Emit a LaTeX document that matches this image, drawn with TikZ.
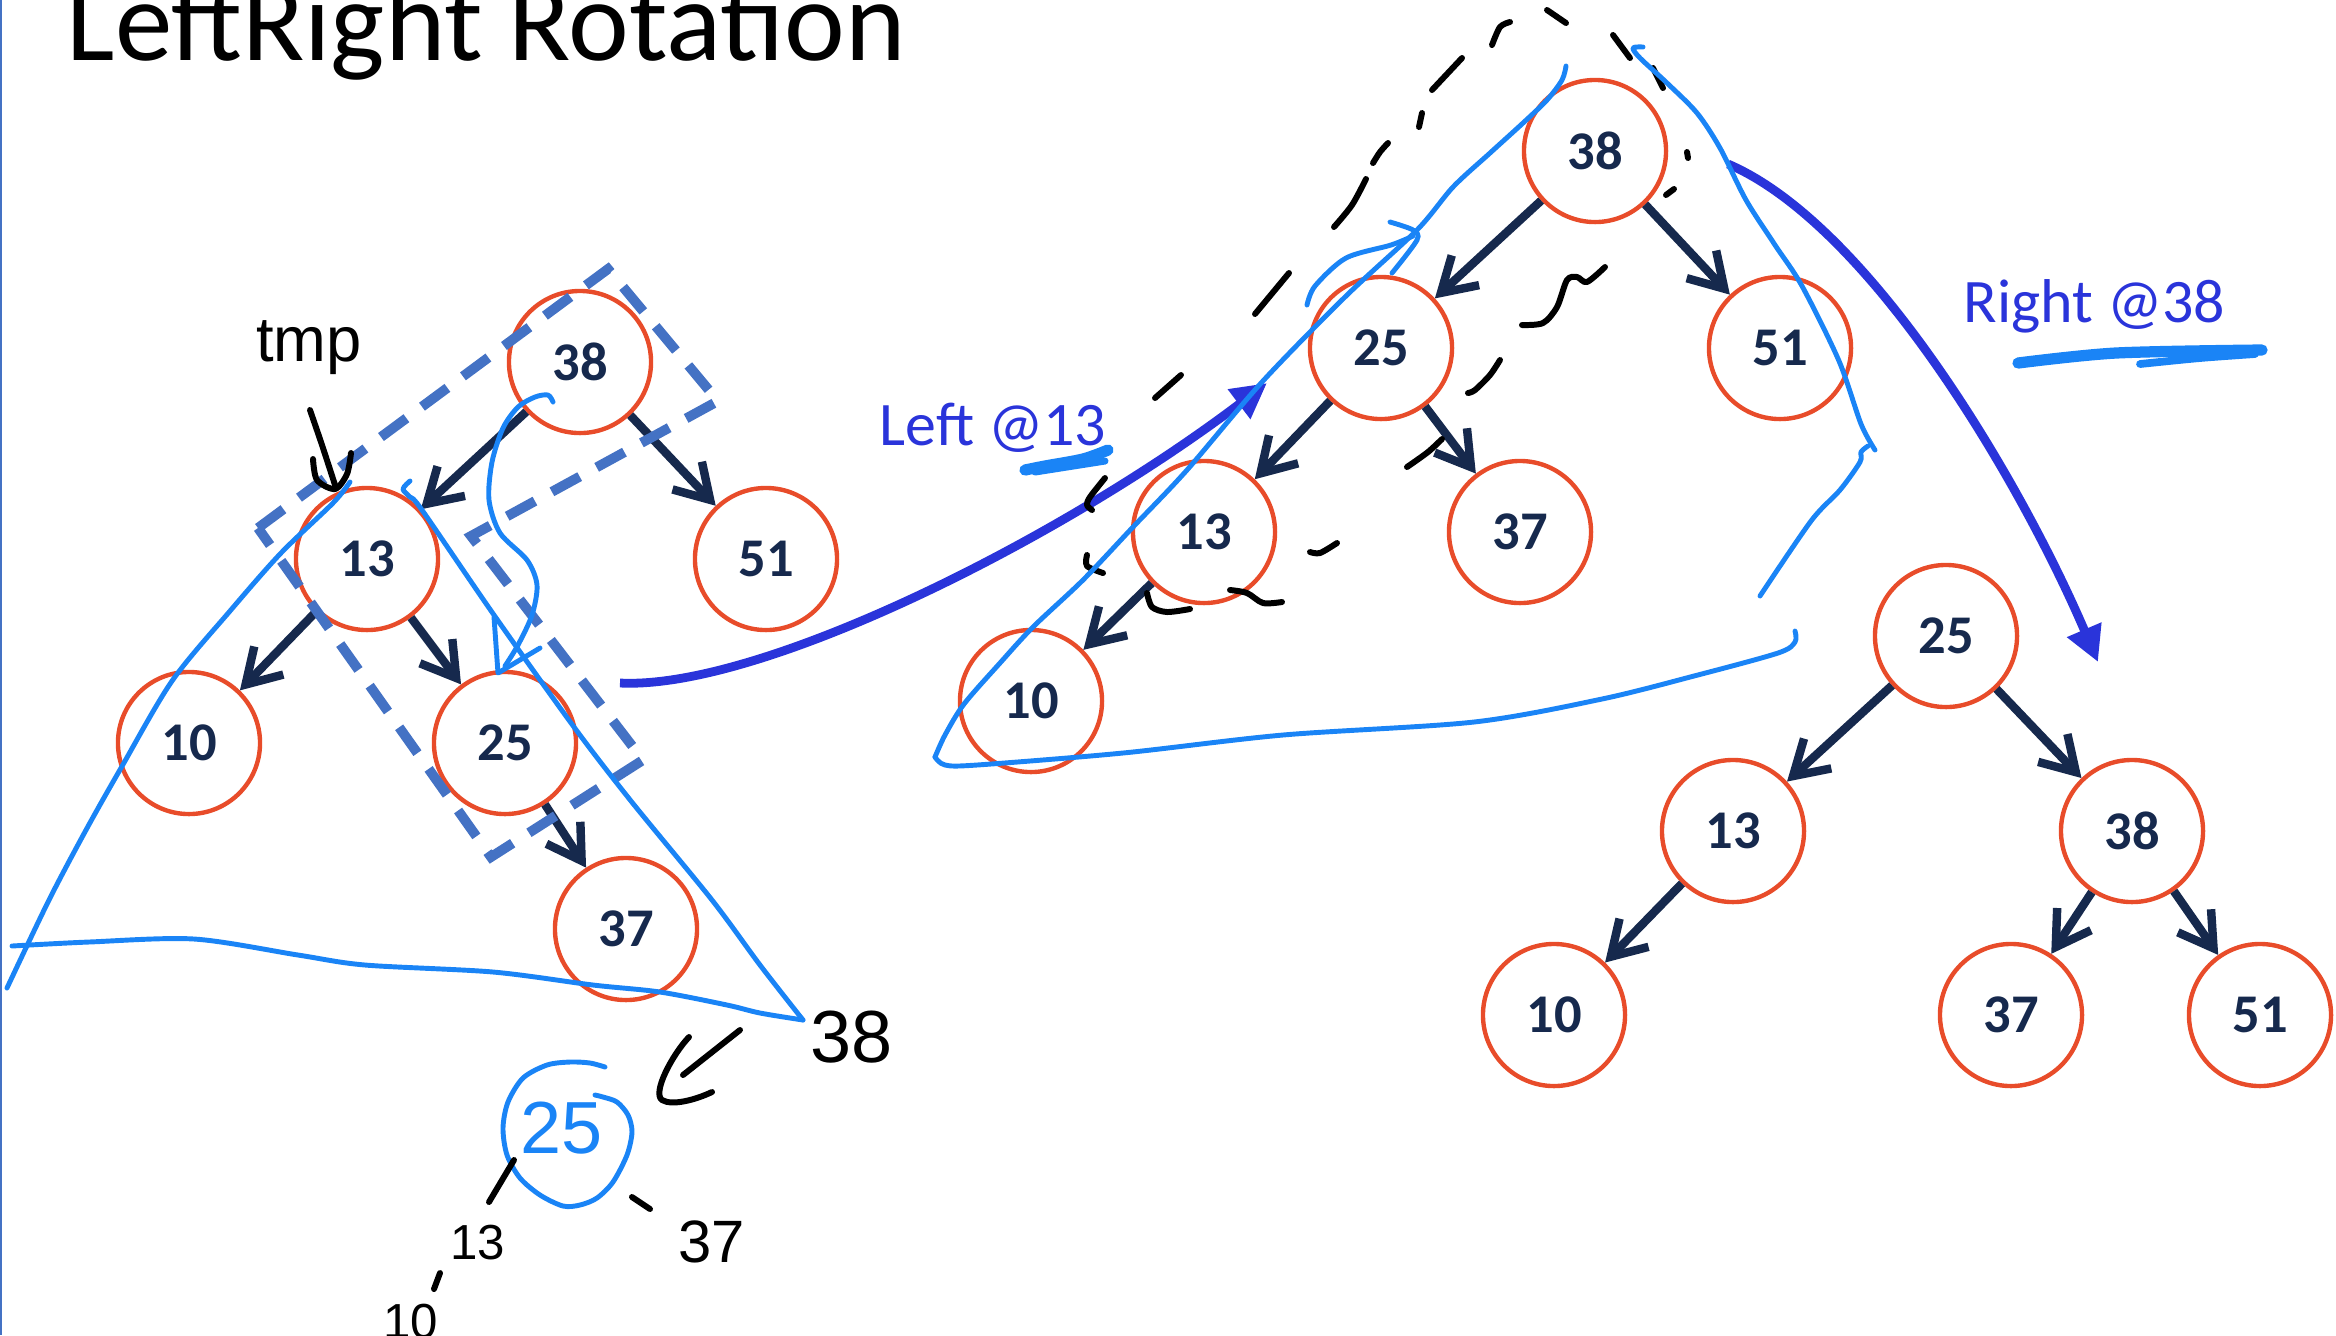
\documentclass[tikz,border=0pt]{standalone}
\usepackage{fontspec}
\setmainfont{Carlito}
\newfontfamily\handfont{Liberation Sans}
\usetikzlibrary{arrows.meta}
\definecolor{circ}{RGB}{232,76,42}
\definecolor{navy}{RGB}{22,41,77}
\definecolor{dashblue}{RGB}{68,114,196}
\definecolor{hblue}{RGB}{26,132,246}
\definecolor{sblue}{RGB}{42,52,218}
\tikzset{
  tn/.style={circle, draw=circ, line width=1.25pt, minimum size=1.42cm, inner sep=0pt,
    text=navy, font=\fontsize{15.5pt}{18pt}\selectfont\bfseries},
  te/.style={draw=navy, line width=2.4pt, -{Straight Barb[length=9.5pt,width=11.5pt]}},
  bl/.style={draw=hblue, line width=1.4pt, line cap=round, line join=round},
  hk/.style={draw=black, line width=1.7pt, line cap=round, line join=round},
  bigarrow/.style={draw=sblue, line width=2.5pt, -{Triangle[length=10pt,width=10pt]}},
  dashrect/.style={draw=dashblue, line width=2.8pt, dash pattern=on 9pt off 5.5pt},
  brush/.style={draw=hblue, line width=3.2pt, line cap=round},
  hand/.style={inner sep=0pt, font=\handfont}
}
\begin{document}
\begin{tikzpicture}[x=0.01cm, y=-0.01cm]
\useasboundingbox (0,0) rectangle (2336,1335);
\draw[dashblue, line width=0.8pt] (1,0) -- (1,1335);

% title
\node[anchor=base west, inner sep=0pt, font=\fontsize{32.7pt}{36pt}\selectfont] (title) at (66,60) {LeftRight Rotation};

% left tree
\node[tn] (L38) at (580,362) {38};
\node[tn] (L13) at (367,559) {13};
\node[tn] (L51) at (766,559) {51};
\node[tn] (L10) at (189,743) {10};
\node[tn] (L25) at (505,743) {25};
\node[tn] (L37) at (626,929) {37};
\draw[te] (L38) -- (L13);
\draw[te] (L38) -- (L51);
\draw[te] (L13) -- (L10);
\draw[te] (L13) -- (L25);
\draw[te] (L25) -- (L37);

% middle tree
\node[tn] (M38) at (1595,151) {38};
\node[tn] (M25) at (1381,348) {25};
\node[tn] (M51) at (1780,348) {51};
\node[tn] (M13) at (1204,532) {13};
\node[tn] (M37) at (1520,532) {37};
\node[tn] (M10) at (1031,701) {10};
\draw[te] (M38) -- (M25);
\draw[te] (M38) -- (M51);
\draw[te] (M25) -- (M13);
\draw[te] (M25) -- (M37);
\draw[te] (M13) -- (M10);

% right tree
\node[tn] (R25) at (1946,636) {25};
\node[tn] (R13) at (1733,831) {13};
\node[tn] (R38) at (2132,831) {38};
\node[tn] (R10) at (1554,1015) {10};
\node[tn] (R37) at (2011,1015) {37};
\node[tn] (R51) at (2260,1015) {51};
\draw[te] (R25) -- (R13);
\draw[te] (R25) -- (R38);
\draw[te] (R13) -- (R10);
\draw[te] (R38) -- (R37);
\draw[te] (R38) -- (R51);

% left tree annotations
\draw[dashrect] (258,528) -- (608,269) -- (718,401) -- (471,536) -- (643,760) -- (491,857) -- cycle;
\draw[bl] plot[smooth] coordinates {(350,482) (333,503) (281,553) (230,611) (172,681) (121,768) (86,830) (49,900) (7,988)};
\draw[bl] plot[smooth] coordinates {(410,481) (403,489) (410,497) (422,510) (494,615) (574,727) (631,801) (712,900) (760,965) (803,1020)};
\draw[bl] plot[smooth] coordinates {(12,946) (89,942) (194,939) (298,955) (365,965) (493,972) (593,985) (660,992) (727,1005) (760,1013) (803,1020)};
\draw[bl] plot[smooth] coordinates {(553,402) (548,395) (535,397) (518,407) (503,428) (492,462) (489,500) (500,533) (527,560) (537,585) (532,615) (518,645) (505,666)};
\draw[bl] (494,617) -- (498,673) -- (540,648);

\node[hand, font=\handfont\fontsize{18pt}{20pt}\selectfont] (tmp) at (309,348) {tmp};
\draw[hk] plot[smooth] coordinates {(310,410) (322,445) (336,488)};
\draw[hk] plot[smooth] coordinates {(313,459) (317,480) (335,489) (347,474) (351,453)};

\node[hand, font=\handfont\fontsize{21pt}{24pt}\selectfont] (h38) at (852,1037) {38};
\draw[hk] (740,1030) -- (683,1075);
\draw[hk] (689,1037) .. controls (672,1055) and (652,1093) .. (662,1100) .. controls (672,1106) and (695,1100) .. (712,1092);
\draw[bl] plot[smooth] coordinates {(605,1067) (590,1063) (570,1062) (547,1065) (523,1078) (508,1102) (503,1128) (507,1155) (520,1178) (540,1195) (563,1206) (580,1205) (597,1198) (613,1182) (627,1155) (632,1132) (628,1115) (617,1102) (603,1097) (595,1095)};
\node[hand, text=hblue, font=\handfont\fontsize{21pt}{24pt}\selectfont] (h25) at (562,1128) {25};
\draw[hk] (514,1160) -- (489,1202);
\node[hand, font=\handfont\fontsize{14pt}{16pt}\selectfont] (h13) at (478,1243) {13};
\draw[hk] (440,1273) -- (434,1289);
\node[hand, font=\handfont\fontsize{14pt}{16pt}\selectfont] (h10) at (411,1322) {10};
\draw[hk] (632,1197) -- (650,1209);
\node[hand, font=\handfont\fontsize{17pt}{20pt}\selectfont] (h37) at (712,1242) {37};

% Left @13 arrow
\coordinate (la1) at (620,683);
\coordinate (la2) at (1267,383);
\draw[bigarrow] (la1) .. controls (760,690) and (1060,540) .. (la2);
\node[anchor=base west, inner sep=0pt, text=sblue, font=\fontsize{17.6pt}{20pt}\selectfont] (lleft) at (879,445) {Left @13};
\draw[brush] plot[smooth] coordinates {(1025,470) (1045,466) (1083,459) (1108,450)};
\draw[brush, line width=2pt] (1035,472) -- (1105,461);

% Right @38 arrow
\coordinate (ra1) at (1728,164);
\coordinate (ra2) at (2098,662);
\draw[bigarrow] (ra1) .. controls (1870,225) and (2020,480) .. (ra2);
\node[anchor=base west, inner sep=0pt, text=sblue, font=\fontsize{17.6pt}{20pt}\selectfont] (lright) at (1963,322) {Right @38};
\draw[brush] plot[smooth] coordinates {(2018,363) (2116,353) (2262,350)};
\draw[brush, line width=2.2pt] plot[smooth] coordinates {(2140,364) (2200,358) (2255,354)};

% middle annotations: black dashes
\draw[hk] (1547,10) -- (1566,23);
\draw[hk] plot[smooth] coordinates {(1492,45) (1500,27) (1510,22)};
\draw[hk] (1432,90) -- (1462,58);
\draw[hk] (1419,127) -- (1422,113);
\draw[hk] plot[smooth] coordinates {(1373,163) (1380,152) (1388,143)};
\draw[hk] plot[smooth] coordinates {(1334,227) (1352,205) (1366,179)};
\draw[hk] (1255,314) -- (1289,273);
\draw[hk] (1155,398) -- (1181,375);
\draw[hk] plot[smooth] coordinates {(1105,478) (1090,497) (1087,505) (1092,510)};
\draw[hk] plot[smooth] coordinates {(1087,555) (1087,566) (1103,573)};
\draw[hk] plot[smooth] coordinates {(1147,593) (1152,607) (1167,612) (1190,609)};
\draw[hk] plot[smooth] coordinates {(1230,590) (1247,593) (1263,603) (1282,602)};
\draw[hk] plot[smooth] coordinates {(1310,552) (1320,553) (1337,543)};
\draw[hk] plot[smooth] coordinates {(1407,467) (1428,452) (1442,439)};
\draw[hk] plot[smooth] coordinates {(1468,393) (1475,390) (1490,375) (1500,360)};
\draw[hk] plot[smooth] coordinates {(1522,325) (1543,323) (1557,307) (1567,280) (1577,277) (1587,282) (1605,267)};
\draw[hk] (1613,35) -- (1630,58);
\draw[hk] (1653,68) -- (1663,88);
\draw[hk] (1687,152) -- (1688,158);
\draw[hk] (1666,195) -- (1674,189);

% middle annotations: blue strokes
\draw[bl] plot[smooth] coordinates {(1566,66) (1562,80) (1547,100) (1523,123) (1490,153) (1453,187) (1417,230) (1346,296) (1262,382) (1187,470) (1133,527) (1083,580) (1033,627) (1000,663) (964,704) (945,735) (935,757)};
\draw[bl] plot[smooth] coordinates {(935,757) (945,765) (977,765) (1123,753) (1283,735) (1474,722) (1602,699) (1694,676) (1778,653) (1795,642) (1795,631)};
\draw[bl] plot[smooth] coordinates {(1307,305) (1315,286) (1346,258) (1391,245) (1413,236)};
\draw[bl] plot[smooth] coordinates {(1390,222) (1413,230) (1417,240) (1392,273)};
\draw[bl] plot[smooth] coordinates {(1643,47) (1633,48) (1640,58) (1667,83) (1697,113) (1720,148) (1746,200) (1775,245) (1802,286) (1839,361) (1861,424) (1875,450)};
\draw[bl] plot[smooth] coordinates {(1868,446) (1861,452) (1860,462) (1840,490) (1811,521) (1760,596)};
\end{tikzpicture}
\end{document}
